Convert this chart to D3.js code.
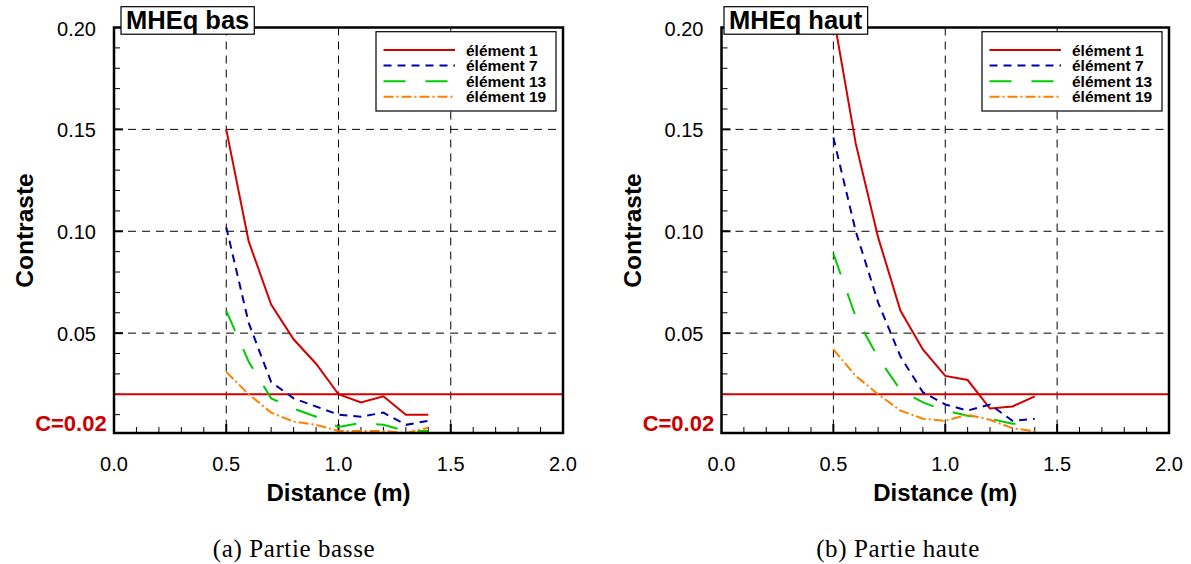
<!DOCTYPE html>
<html><head><meta charset="utf-8">
<script src="https://cdn.jsdelivr.net/npm/d3@7"></script>
<style>body{margin:0;background:#fff}svg{display:block}</style>
</head><body>
<svg id="c" width="1191" height="564"></svg>
<script>
const distances = [0.5,0.6,0.7,0.8,0.9,1.0,1.1,1.2,1.3,1.4];
const basE1  = [0.150,0.095,0.064,0.047,0.035,0.020,0.016,0.019,0.010,0.010];
const basE7  = [0.102,0.055,0.026,0.018,0.014,0.010,0.009,0.011,0.005,0.007];
const basE13 = [0.061,0.036,0.018,0.013,0.009,0.004,0.006,0.005,0.002,0.002];
const basE19 = [0.031,0.020,0.011,0.0066,0.005,0.002,0.002,0.002,0.001,0.0036];
const hautE1  = [0.206,0.143,0.097,0.061,0.042,0.029,0.027,0.013,0.014,0.019];
const hautE7  = [0.146,0.100,0.065,0.0385,0.021,0.015,0.012,0.015,0.007,0.008];
const hautE13 = [0.089,0.058,0.038,0.022,0.016,0.012,0.0095,0.008,0.0055,0.006];
const hautE19 = [0.042,0.029,0.020,0.012,0.008,0.007,0.010,0.0075,0.0034,0.0018];
const seriesNames = ["élément 1","élément 7","élément 13","élément 19"];
const xTicks = [0.0,0.5,1.0,1.5,2.0];
const yTicks = [0.05,0.10,0.15,0.20];
const threshold = 0.02;
const thresholdLabel = "C=0.02";
const titles = ["MHEq bas","MHEq haut"];
const captions = ["(a)  Partie basse","(b)  Partie haute"];

const styles = [
  {color:"#d40000", dash:null},
  {color:"#0000a8", dash:"8,6"},
  {color:"#00cc00", dash:"22,20"},
  {color:"#ff8000", dash:"10,3,2,3"}
];
const svg = d3.select("#c");
const FONT = "'Liberation Sans', Arial, Helvetica, sans-serif";

function panel(idx, left, right, titleOffset, captionX, seriesList){
  const top = 27.5, bottom = 433;
  const x = d3.scaleLinear().domain([0,2]).range([left,right]);
  const y = d3.scaleLinear().domain([0.001,0.2]).range([bottom,top]);
  const g = svg.append("g");
  const clipId = "clip"+idx;
  g.append("clipPath").attr("id",clipId).append("rect")
    .attr("x",left).attr("y",top).attr("width",right-left).attr("height",bottom-top);
  // grid
  [0.5,1.0,1.5].forEach(v=>{
    g.append("line").attr("x1",x(v)).attr("x2",x(v)).attr("y1",top).attr("y2",bottom)
      .attr("stroke","#000").attr("stroke-width",1).attr("stroke-dasharray","8,6");
  });
  [0.05,0.10,0.15].forEach(v=>{
    g.append("line").attr("x1",left).attr("x2",right).attr("y1",y(v)).attr("y2",y(v))
      .attr("stroke","#000").attr("stroke-width",1).attr("stroke-dasharray","8,6");
  });
  // ticks
  d3.range(1,20).forEach(i=>{
    const v=i/10; const major = i%5===0;
    g.append("line").attr("x1",x(v)).attr("x2",x(v)).attr("y1",bottom).attr("y2",bottom-(major?9:6))
      .attr("stroke","#000").attr("stroke-width",major?2:1);
  });
  d3.range(1,20).forEach(i=>{
    const v=i/100; const major = i%5===0;
    g.append("line").attr("x1",left).attr("x2",left+(major?9:6)).attr("y1",y(v)).attr("y2",y(v))
      .attr("stroke","#000").attr("stroke-width",major?2:1);
  });
  // threshold
  g.append("line").attr("x1",left).attr("x2",right).attr("y1",y(threshold)).attr("y2",y(threshold))
    .attr("stroke","#d40000").attr("stroke-width",2);
  // series
  const line = d3.line().x((d,i)=>x(distances[i])).y(d=>y(d));
  const lg = g.append("g").attr("clip-path",`url(#${clipId})`);
  seriesList.forEach((vals,k)=>{
    lg.append("path").datum(vals).attr("d",line).attr("fill","none")
      .attr("stroke",styles[k].color).attr("stroke-width",2)
      .attr("stroke-dasharray",styles[k].dash);
  });
  // frame
  g.append("rect").attr("x",left).attr("y",top).attr("width",right-left).attr("height",bottom-top)
    .attr("fill","none").attr("stroke","#000").attr("stroke-width",2.5);
  // axis labels
  xTicks.forEach(v=>{
    g.append("text").attr("x",x(v)).attr("y",470.5).attr("text-anchor","middle")
      .attr("font-family",FONT).attr("font-size",20).text(v.toFixed(1));
  });
  yTicks.forEach(v=>{
    g.append("text").attr("x",left-18).attr("y",y(v)+8).attr("text-anchor","end")
      .attr("font-family",FONT).attr("font-size",20).text(v.toFixed(2));
  });
  g.append("text").attr("x",left-7.3).attr("y",430.5).attr("text-anchor","end")
    .attr("font-family",FONT).attr("font-size",22).attr("font-weight","bold")
    .attr("fill","#cc0000").text(thresholdLabel);
  g.append("text").attr("transform",`translate(${left-81},${230.5}) rotate(-90)`)
    .attr("text-anchor","middle").attr("font-family",FONT).attr("font-size",24.5).attr("font-weight","bold")
    .text("Contraste");
  g.append("text").attr("x",(left+right)/2).attr("y",501).attr("text-anchor","middle")
    .attr("font-family",FONT).attr("font-size",24).attr("font-weight","bold").text("Distance (m)");
  // title box
  const tbox = g.append("rect");
  const tt = g.append("text").attr("x",left+titleOffset+5).attr("y",29).attr("font-family",FONT)
    .attr("font-size",25.5).attr("font-weight","bold").text(titles[idx]);
  const bb = tt.node().getBBox();
  tbox.attr("x",left+titleOffset).attr("y",6.7).attr("width",bb.width+10).attr("height",27.5)
    .attr("fill","#fff").attr("stroke","#000").attr("stroke-width",1.2);
  // legend
  const lx = right-187, ly = 31.7;
  const leg = g.append("g");
  leg.append("rect").attr("x",lx).attr("y",ly).attr("width",180).attr("height",79.3)
    .attr("fill","#fff").attr("stroke","#000").attr("stroke-width",1.2);
  seriesNames.forEach((n,k)=>{
    const yy = 50 + k*15.6;
    leg.append("line").attr("x1",lx+7.5).attr("x2",lx+79).attr("y1",yy).attr("y2",yy)
      .attr("stroke",styles[k].color).attr("stroke-width",2).attr("stroke-dasharray",styles[k].dash);
    leg.append("text").attr("x",lx+90).attr("y",yy+5.5).attr("font-family",FONT)
      .attr("font-size",15.5).attr("font-weight","bold").text(n);
  });
  // caption
  g.append("text").attr("x",captionX).attr("y",557).attr("text-anchor","middle")
    .attr("font-family","'Liberation Serif','DejaVu Serif',serif").attr("font-size",25)
    .attr("letter-spacing",0.6).text(captions[idx]);
}
panel(0,114,563,7,294,[basE1,basE7,basE13,basE19]);
panel(1,721.5,1169,2.5,898,[hautE1,hautE7,hautE13,hautE19]);
</script>
</body></html>
